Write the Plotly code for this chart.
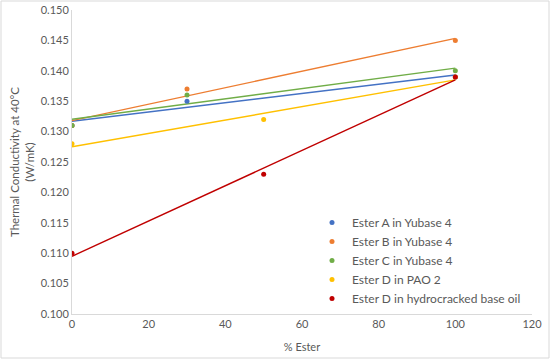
import numpy as np
import plotly.graph_objects as go

series_names = ["Ester A in Yubase 4", "Ester B in Yubase 4", "Ester C in Yubase 4",
                "Ester D in PAO 2", "Ester D in hydrocracked base oil"]
colors = ["#4472C4", "#ED7D31", "#70AD47", "#FFC000", "#C00000"]

x_A = [0, 30, 100]
y_A = [0.131, 0.135, 0.139]
x_B = [0, 30, 100]
y_B = [0.131, 0.137, 0.145]
x_C = [0, 30, 100]
y_C = [0.131, 0.136, 0.140]
x_D_pao = [0, 50, 100]
y_D_pao = [0.128, 0.132, 0.139]
x_D_hc = [0, 50, 100]
y_D_hc = [0.110, 0.123, 0.139]

xs = [x_A, x_B, x_C, x_D_pao, x_D_hc]
ys = [y_A, y_B, y_C, y_D_pao, y_D_hc]

fig = go.Figure()
# trendlines (linear fit), drawn first
for x, y, c in zip(xs, ys, colors):
    slope, intercept = np.polyfit(x, y, 1)
    tx = [min(x), max(x)]
    ty = [intercept + slope * v for v in tx]
    fig.add_trace(go.Scatter(x=tx, y=ty, mode="lines", line=dict(color=c, width=1.4),
                             showlegend=False, hoverinfo="skip"))
# points
for x, y, c, n in zip(xs, ys, colors, series_names):
    fig.add_trace(go.Scatter(x=x, y=y, mode="markers", name=n,
                             marker=dict(color=c, size=5)))

L, R, T, B = 72, 18, 10, 45
W, H = 550, 359
pw, ph = W - L - R, H - T - B

fig.update_layout(
    width=W, height=H,
    margin=dict(l=L, r=R, t=T, b=B, autoexpand=False),
    paper_bgcolor="white", plot_bgcolor="white",
    font=dict(family="Lato, Open Sans, sans-serif", size=11, color="#595959"),
    xaxis=dict(range=[0, 120], tickvals=[0, 20, 40, 60, 80, 100, 120],
               showgrid=False, zeroline=False, showline=True, linecolor="#D9D9D9",
               linewidth=1, ticks="", automargin=False,
               title=dict(text="% Ester", standoff=14, font=dict(size=11))),
    yaxis=dict(range=[0.100, 0.150], tickvals=[0.100, 0.105, 0.110, 0.115, 0.120, 0.125,
               0.130, 0.135, 0.140, 0.145, 0.150], tickformat=".3f",
               showgrid=False, zeroline=False, showline=True, linecolor="#D9D9D9",
               linewidth=1, ticks="", automargin=False,
               title=dict(text="Thermal Conductivity at 40°C<br>(W/mK)", standoff=3,
                          font=dict(size=11.5))),
    legend=dict(x=(312 - L) / pw, y=1 - (208 - T) / ph, xanchor="left", yanchor="top",
                bgcolor="rgba(255,255,255,0)", font=dict(size=12, color="#595959"),
                itemwidth=30, tracegroupgap=0),
    shapes=[dict(type="rect", xref="paper", yref="paper",
                 x0=(1 - L) / pw, x1=(W - 1 - L) / pw,
                 y0=-(H - 1 - T - ph) / ph, y1=1 + (T - 1) / ph,
                 line=dict(color="#D9D9D9", width=1), fillcolor="rgba(0,0,0,0)")],
)

fig.write_html("out.html", config={"displayModeBar": False},
               post_script="document.body.style.margin='0';document.body.style.overflow='hidden';")
